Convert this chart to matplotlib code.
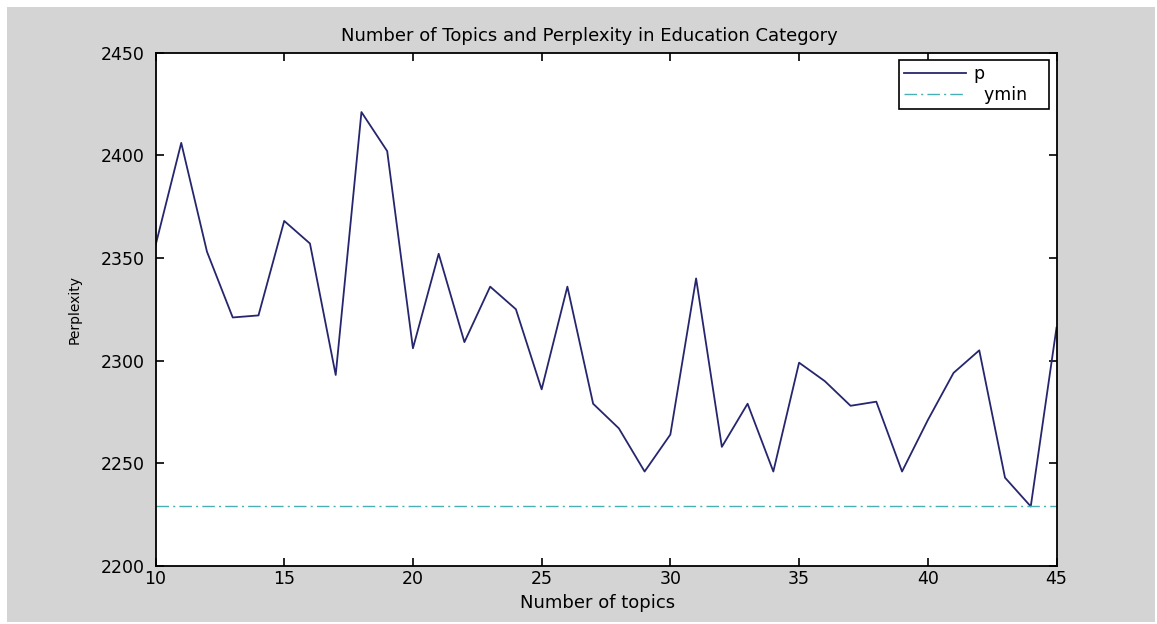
import matplotlib
matplotlib.use("Agg")
import matplotlib.pyplot as plt
from matplotlib.patches import Rectangle

topics = list(range(10, 46))
perplexity = [2356, 2406, 2353, 2321, 2322, 2368, 2357, 2293, 2421, 2402,
              2306, 2352, 2309, 2336, 2325, 2286, 2336, 2279, 2267, 2246,
              2264, 2340, 2258, 2279, 2246, 2299, 2290, 2278, 2280, 2246,
              2271, 2294, 2305, 2243, 2229, 2316]
ymin_value = min(perplexity)

title = "Number of Topics and Perplexity in Education Category"
xlabel = "Number of topics"
ylabel = "Perplexity"
xticks = [10, 15, 20, 25, 30, 35, 40, 45]
yticks = [2200, 2250, 2300, 2350, 2400, 2450]

W, H = 1157, 624
plt.rcParams['font.family'] = ['DejaVu Sans']
fig = plt.figure(figsize=(W / 100, H / 100), dpi=100, facecolor='white')
bg = Rectangle((7 / W, 2 / H), (1155 - 7) / W, (617 - 2) / H,
               transform=fig.transFigure, facecolor='#d4d4d4',
               edgecolor='none', zorder=-10)
fig.patches.append(bg)

left, right, top, bottom = 155.5, 1056.5, 52.5, 566
ax = fig.add_axes([left / W, 1 - bottom / H, (right - left) / W, (bottom - top) / H])
ax.set_zorder(1)
ax.set_facecolor('white')

ax.plot(topics, perplexity, color='#26266e', lw=1.3, label='p')
ax.plot([topics[0], topics[-1]], [ymin_value, ymin_value], color='#48b0b4',
        lw=1.0, linestyle=(0, (9, 3, 1.5, 3)), label='  ymin   ')

ax.set_xlim(10, 45)
ax.set_ylim(2200, 2450)
ax.set_xticks(xticks)
ax.set_yticks(yticks)
ax.tick_params(direction='in', length=6, width=1.2, top=True, right=True,
               labelsize=12.5, colors='black')
ax.tick_params(axis='x', pad=3)
ax.tick_params(axis='y', pad=7.5)
for s in ax.spines.values():
    s.set_linewidth(1.3)
    s.set_color('black')

ax.set_title(title, fontsize=13, pad=8, x=0.481)
ax.set_xlabel(xlabel, fontsize=13, labelpad=4)
ax.set_ylabel(ylabel, fontsize=10, labelpad=14)
ax.xaxis.label.set_x((597.5 - left) / (right - left))

leg = ax.legend(loc='upper right',
                bbox_to_anchor=((1049 - left) / (right - left), (bottom - 60) / (bottom - top)),
                fontsize=12.5, fancybox=False, framealpha=1, edgecolor='black',
                handlelength=3.6, borderpad=0.3, labelspacing=0.15,
                handletextpad=0.4, borderaxespad=0.0)
leg.get_frame().set_linewidth(1.2)

fig.savefig("out.png", dpi=100, facecolor=fig.get_facecolor())
